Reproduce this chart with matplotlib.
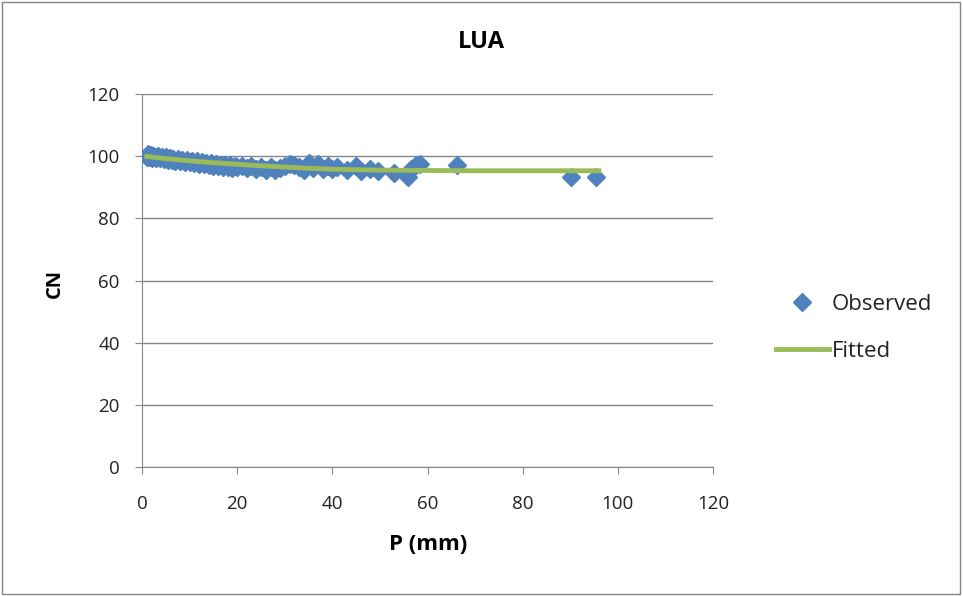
import numpy as np
import matplotlib.pyplot as plt
from matplotlib.patches import Rectangle

plt.rcParams['font.family'] = ['Open Sans', 'DejaVu Sans']

# observed points
p_obs = [1.0, 1.2, 1.5, 1.8, 2.0, 2.4, 2.8, 3.0, 3.4, 3.8, 4.2, 4.6, 5.0, 5.4, 5.8, 6.2,
         6.6, 7.0, 7.5, 8.0, 8.5, 9.0, 9.5, 10.0, 10.5, 11.0, 11.5, 12.0, 12.5, 13.0, 13.5,
         14.0, 14.5, 15.0, 15.5, 16.0, 16.5, 17.0, 17.5, 18.0, 18.5, 19.0, 19.5, 20.0, 21.0,
         22.0, 23.0, 24.0, 25.0, 26.0, 27.0, 28.0, 29.0, 30.0, 31.0, 32.0, 33.0, 34.0, 35.0,
         36.0, 37.0, 38.0, 39.0, 40.0, 41.0, 43.0, 45.0, 46.0, 48.0, 49.5, 53.0, 56.0, 56.5,
         57.5, 58.5, 66.2, 90.1, 95.4]
cn_obs = [99.8, 100.6, 99.6, 100.4, 99.5, 100.2, 99.8, 99.4, 100.1, 99.3, 99.8, 99.2, 99.7,
          98.9, 99.4, 98.7, 99.2, 98.6, 99.0, 98.4, 98.8, 98.2, 98.7, 98.0, 98.5, 97.8, 98.4,
          97.6, 98.1, 97.4, 97.9, 97.2, 97.8, 96.9, 97.5, 96.7, 97.3, 96.6, 97.2, 96.4, 97.0,
          96.3, 96.9, 96.5, 96.8, 96.2, 96.9, 95.9, 96.5, 95.6, 96.4, 95.4, 96.1, 96.8, 97.6,
          97.2, 96.4, 95.7, 97.8, 96.3, 97.4, 96.0, 96.9, 95.8, 96.6, 95.5, 96.8, 95.2, 95.9,
          95.3, 94.6, 93.4, 96.0, 97.3, 97.5, 97.2, 93.3, 93.2]

# fitted curve
p_fit = [1.0, 5.0, 10.0, 15.0, 20.0, 25.0, 30.0, 35.0, 40.0, 50.0, 60.0, 70.0, 80.0, 96.0]
cn_fit = [99.9, 99.2, 98.5, 97.9, 97.4, 96.9, 96.5, 96.1, 95.8, 95.5, 95.4, 95.3, 95.3, 95.3]

fig = plt.figure(figsize=(9.63, 5.96), dpi=100)
ax = fig.add_axes([0.1475, 0.2164, 0.5929, 0.6259])

ax.plot(p_obs, cn_obs, linestyle='none', marker='D', markersize=9,
        color='#4f81bd', label='Observed', zorder=3)
ax.plot(p_fit, cn_fit, color='#9bbb59', linewidth=3.5, label='Fitted', zorder=4)

ax.set_xlim(0, 120)
ax.set_ylim(0, 120)
ax.set_xticks(np.arange(0, 121, 20))
ax.set_yticks(np.arange(0, 121, 20))
ax.yaxis.grid(True, color='#868686', linewidth=1)
ax.set_axisbelow(True)
for s in ['top', 'right']:
    ax.spines[s].set_visible(False)
for s in ['left', 'bottom']:
    ax.spines[s].set_color('#868686')
ax.tick_params(axis='x', length=5, color='#868686', labelsize=13.5, pad=15, labelcolor='#222222')
ax.tick_params(axis='y', length=5, color='#868686', labelsize=13.5, pad=11, labelcolor='#222222')

fig.text(0.5, 1 - 42 / 596, 'LUA', fontsize=17, fontweight='bold', ha='center', va='center')
fig.text(428 / 963, 1 - 545 / 596, 'P (mm)', fontsize=16, fontweight='bold',
         ha='center', va='center')
fig.text(55 / 963, 1 - 283 / 596, 'CN', fontsize=14.5, fontweight='bold',
         ha='center', va='center', rotation=90)

ax.legend(loc='center left', bbox_to_anchor=(1.075, 0.373), frameon=False,
          fontsize=16, handlelength=2.4, labelspacing=1.15, handletextpad=0.1,
          labelcolor='#222222')

fig.patches.append(Rectangle((0.002, 0.004), 0.995, 0.992, transform=fig.transFigure,
                             fill=False, edgecolor='#868686', linewidth=1))

fig.savefig('out.png', dpi=100)
